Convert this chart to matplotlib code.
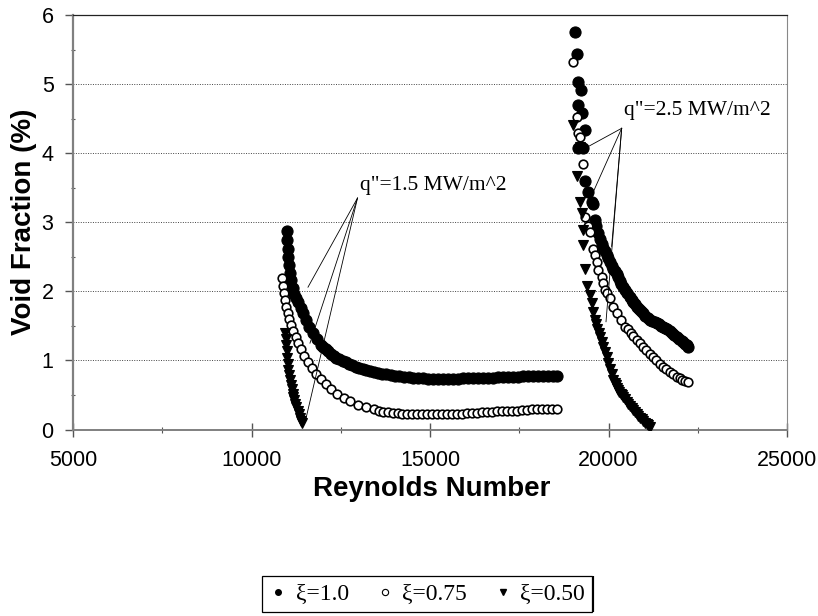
import matplotlib
matplotlib.use("Agg")
import matplotlib.pyplot as plt
from matplotlib.ticker import MultipleLocator
from matplotlib.lines import Line2D

# ---------------- data ----------------
# q" = 1.5 MW/m^2
re_10_a = [10990, 11000, 11010, 11030, 11050, 11080, 11110, 11150, 11200, 11250,
           11310, 11380, 11450, 11530, 11620, 11720, 11830, 11950, 12010, 12080,
           12150, 12220, 12300, 12380, 12460, 12550, 12640, 12730, 12820, 12920,
           13020, 13120, 13220, 13330, 13440, 13550, 13660, 13780, 13900, 14020,
           14140, 14270, 14400, 14530, 14660, 14800, 14940, 15080, 15220, 15360,
           15500, 15640, 15780, 15920, 16060, 16200, 16340, 16480, 16620, 16760,
           16900, 17040, 17180, 17320, 17460, 17600, 17740, 17880, 18020, 18160,
           18300, 18440, 18560]
vf_10_a = [2.87, 2.75, 2.62, 2.50, 2.38, 2.27, 2.16, 2.05, 1.96, 1.90,
           1.84, 1.76, 1.68, 1.59, 1.49, 1.39, 1.31, 1.23, 1.20, 1.16,
           1.13, 1.10, 1.07, 1.04, 1.015, 0.99, 0.97, 0.95, 0.93, 0.91,
           0.895, 0.88, 0.865, 0.85, 0.835, 0.82, 0.81, 0.80, 0.79, 0.78,
           0.77, 0.76, 0.755, 0.75, 0.745, 0.74, 0.735, 0.73, 0.73, 0.73,
           0.73, 0.73, 0.735, 0.74, 0.74, 0.74, 0.745, 0.75, 0.75, 0.75,
           0.755, 0.76, 0.76, 0.76, 0.765, 0.77, 0.77, 0.77, 0.775, 0.78,
           0.78, 0.78, 0.78]

re_075_a = [10850, 10870, 10900, 10930, 10970, 11010, 11060, 11110, 11170, 11240,
            11310, 11390, 11480, 11580, 11690, 11810, 11940, 12080, 12230, 12400,
            12580, 12770, 12980, 13200, 13440, 13560, 13690, 13820, 13950, 14090,
            14220, 14360, 14500, 14640, 14780, 14920, 15060, 15200, 15340, 15480,
            15620, 15760, 15900, 16040, 16180, 16320, 16460, 16600, 16740, 16880,
            17020, 17160, 17300, 17440, 17580, 17720, 17860, 18000, 18140, 18280,
            18420, 18560]
vf_075_a = [2.19, 2.08, 1.97, 1.87, 1.78, 1.69, 1.60, 1.51, 1.43, 1.34,
            1.25, 1.16, 1.07, 0.98, 0.89, 0.81, 0.73, 0.66, 0.59, 0.52,
            0.46, 0.41, 0.36, 0.32, 0.29, 0.275, 0.26, 0.25, 0.24, 0.235,
            0.23, 0.225, 0.22, 0.22, 0.22, 0.22, 0.22, 0.22, 0.22, 0.225,
            0.23, 0.23, 0.23, 0.235, 0.24, 0.245, 0.25, 0.255, 0.26, 0.265,
            0.27, 0.27, 0.27, 0.275, 0.28, 0.285, 0.29, 0.29, 0.29, 0.295,
            0.30, 0.30]

re_05_a = [10940, 10955, 10970, 10985, 11000, 11015, 11031, 11055, 11080, 11105,
           11130, 11150, 11171, 11200, 11230, 11260, 11290, 11320, 11350, 11380, 11405]
vf_05_a = [1.40, 1.31, 1.22, 1.13, 1.04, 0.95, 0.86, 0.79, 0.72, 0.65,
           0.58, 0.52, 0.47, 0.42, 0.37, 0.32, 0.27, 0.22, 0.17, 0.13, 0.09]

# q" = 2.5 MW/m^2
re_10_b = [19061, 19108, 19153, 19220, 19153, 19248, 19341, 19153, 19293, 19341,
           19434, 19528, 19574, 19621, 19660, 19714, 19760, 19809, 19850, 19900,
           19950, 19994, 20040, 20088, 20130, 20180, 20230, 20273, 20320, 20360,
           20410, 20461, 20530, 20600, 20650, 20700, 20745, 20789, 20845, 20900,
           20965, 21030, 21095, 21162, 21230, 21300, 21360, 21420, 21470, 21526,
           21590, 21650, 21715, 21780, 21845, 21910, 21980, 22050, 22100, 22150,
           22190, 22226]
vf_10_b = [5.75, 5.44, 5.03, 4.91, 4.70, 4.58, 4.33, 4.07, 4.07, 3.59,
           3.44, 3.30, 3.27, 3.03, 2.95, 2.84, 2.76, 2.69, 2.63, 2.58,
           2.53, 2.48, 2.42, 2.36, 2.33, 2.29, 2.25, 2.21, 2.15, 2.10,
           2.06, 2.02, 1.97, 1.92, 1.88, 1.84, 1.81, 1.78, 1.75, 1.72,
           1.68, 1.65, 1.61, 1.58, 1.565, 1.55, 1.535, 1.52, 1.505, 1.49,
           1.47, 1.45, 1.42, 1.39, 1.365, 1.34, 1.31, 1.28, 1.26, 1.24,
           1.22, 1.20]

re_075_b = [19014, 19108, 19153, 19201, 19293, 19341, 19430, 19481, 19574, 19621,
            19668, 19705, 19809, 19845, 19901, 19970, 20041, 20130, 20229, 20340,
            20462, 20540, 20620, 20700, 20789, 20880, 20970, 21060, 21162, 21250,
            21340, 21430, 21526, 21620, 21720, 21810, 21910, 21990, 22070, 22150, 22226]
vf_075_b = [5.32, 4.53, 4.29, 4.24, 3.85, 3.08, 2.95, 2.86, 2.62, 2.52,
            2.42, 2.31, 2.21, 2.12, 2.02, 1.97, 1.90, 1.78, 1.68, 1.58,
            1.49, 1.45, 1.40, 1.35, 1.30, 1.25, 1.20, 1.15, 1.10, 1.05,
            1.00, 0.95, 0.91, 0.87, 0.83, 0.80, 0.76, 0.74, 0.72, 0.70, 0.69]

re_05_b = [19014, 19201, 19130, 19201, 19248, 19293, 19293, 19341, 19389, 19480,
           19529, 19575, 19621, 19655, 19690, 19725, 19761, 19805, 19850, 19900,
           19949, 19995, 20040, 20090, 20134, 20170, 20200, 20235, 20270, 20305,
           20340, 20380, 20415, 20460, 20510, 20555, 20600, 20650, 20700, 20745,
           20789, 20835, 20880, 20930, 20980, 21025, 21070, 21115, 21162]
vf_05_b = [4.41, 4.09, 3.67, 3.30, 3.13, 2.89, 2.67, 2.33, 2.07, 1.95,
           1.83, 1.70, 1.58, 1.52, 1.46, 1.40, 1.34, 1.26, 1.19, 1.12,
           1.05, 0.96, 0.88, 0.80, 0.72, 0.68, 0.64, 0.60, 0.57, 0.545,
           0.52, 0.495, 0.47, 0.435, 0.40, 0.37, 0.34, 0.31, 0.28, 0.255,
           0.23, 0.20, 0.17, 0.145, 0.12, 0.10, 0.08, 0.06, 0.04]

legend_labels = ["\u03be=1.0", "\u03be=0.75", "\u03be=0.50"]
note_texts = ['q"=1.5 MW/m^2', 'q"=2.5 MW/m^2']
note_xy = [(13039, 3.466), (20434, 4.55)]
note_anchor = [(12969, 3.35), (20369, 4.36)]
note_targets = [[(11582, 2.06), (11638, 1.25), (11526, 0.16)],
                [(19341, 4.07), (19574, 3.44), (20088, 2.65), (19930, 1.56)]]

x_ticks = [5000, 10000, 15000, 20000, 25000]
y_ticks = [0, 1, 2, 3, 4, 5, 6]

# ---------------- figure ----------------
W, H = 818, 616
fig = plt.figure(figsize=(W / 100, H / 100), dpi=100)
ax = fig.add_axes([73 / W, 1 - 429.5 / H, (787 - 73) / W, (429.5 - 15) / H])

sans = ["Liberation Sans", "DejaVu Sans"]
serif = ["Liberation Serif", "DejaVu Serif"]

kw_fill = dict(linestyle="none", marker="o", color="black", markersize=8,
               markeredgewidth=0.8)
kw_open = dict(linestyle="none", marker="o", markerfacecolor="white",
               markeredgecolor="black", markersize=6.2, markeredgewidth=1.2)
kw_tri = dict(linestyle="none", marker="v", color="black", markersize=7.5,
              markeredgewidth=0.8)

ax.plot(re_10_a, vf_10_a, zorder=3, **kw_fill)
ax.plot(re_10_b, vf_10_b, zorder=3, **kw_fill)
ax.plot(re_075_a, vf_075_a, zorder=4, **kw_open)
ax.plot(re_075_b, vf_075_b, zorder=4, **kw_open)
ax.plot(re_05_a, vf_05_a, zorder=5, **kw_tri)
ax.plot(re_05_b, vf_05_b, zorder=5, **kw_tri)

# annotations
for txt, (tx, ty), (axx, ayy), targets in zip(note_texts, note_xy, note_anchor, note_targets):
    ax.text(tx, ty, txt, family=serif, fontsize=15.5, ha="left", va="baseline", zorder=6)
    for (px, py) in targets:
        ax.plot([axx, px], [ayy, py], color="black", lw=0.6, zorder=6)

ax.set_xlim(5000, 25000)
ax.set_ylim(0, 6)
ax.set_xticks(x_ticks)
ax.set_yticks(y_ticks)
ax.xaxis.set_minor_locator(MultipleLocator(2500))
ax.yaxis.set_minor_locator(MultipleLocator(0.5))

ax.tick_params(axis="x", which="major", direction="inout", length=10, width=1,
               color="#555555", pad=10, labelsize=15.5)
ax.tick_params(axis="x", which="minor", direction="inout", length=4.5, width=0.8,
               color="#555555")
ax.tick_params(axis="y", which="major", direction="out", length=6, width=1,
               color="#555555", pad=8, labelsize=15.5)
ax.tick_params(axis="y", which="minor", direction="inout", length=3, width=0.8,
               color="#555555")
for lab in ax.get_xticklabels() + ax.get_yticklabels():
    lab.set_family(sans)

ax.grid(axis="y", which="major", linestyle=(0, (1, 1.5)), color="#444444", lw=0.7)
ax.set_axisbelow(True)

ax.spines["left"].set_color("#808080")
ax.spines["left"].set_linewidth(1.6)
ax.spines["bottom"].set_color("#808080")
ax.spines["bottom"].set_linewidth(1.4)
ax.spines["top"].set_color("#222222")
ax.spines["top"].set_linewidth(0.9)
ax.spines["right"].set_color("#888888")
ax.spines["right"].set_linewidth(0.8)

fig.text(432 / W, 1 - 489 / H, "Reynolds Number", family=sans, fontsize=20,
         fontweight="bold", ha="center", va="center")
fig.text(24 / W, 1 - 222 / H, "Void Fraction (%)", family=sans, fontsize=20,
         fontweight="bold", ha="center", va="center", rotation=90)

# legend
handles = [Line2D([], [], linestyle="none", marker="o", color="black", markersize=4),
           Line2D([], [], linestyle="none", marker="o", markerfacecolor="white",
                  markeredgecolor="black", markersize=4.5, markeredgewidth=0.8),
           Line2D([], [], linestyle="none", marker="v", color="black", markersize=5)]
leg = fig.legend(handles, legend_labels, loc="center",
                 bbox_to_anchor=(427 / W, 1 - 594 / H), ncol=3,
                 prop={"family": serif, "size": 17}, frameon=True, fancybox=False,
                 edgecolor="black", framealpha=1, handlelength=0.8,
                 handletextpad=0.35, columnspacing=1.1, borderpad=0.3)
leg.get_frame().set_linewidth(0.9)

# thick right edge of the legend box, as in the scan
fig.canvas.draw()
bb = leg.get_window_extent().transformed(fig.transFigure.inverted())
fig.add_artist(Line2D([bb.x1, bb.x1], [bb.y0, bb.y1], transform=fig.transFigure,
                      color="black", lw=3, solid_capstyle="butt"))

fig.savefig("out.png", dpi=100)
